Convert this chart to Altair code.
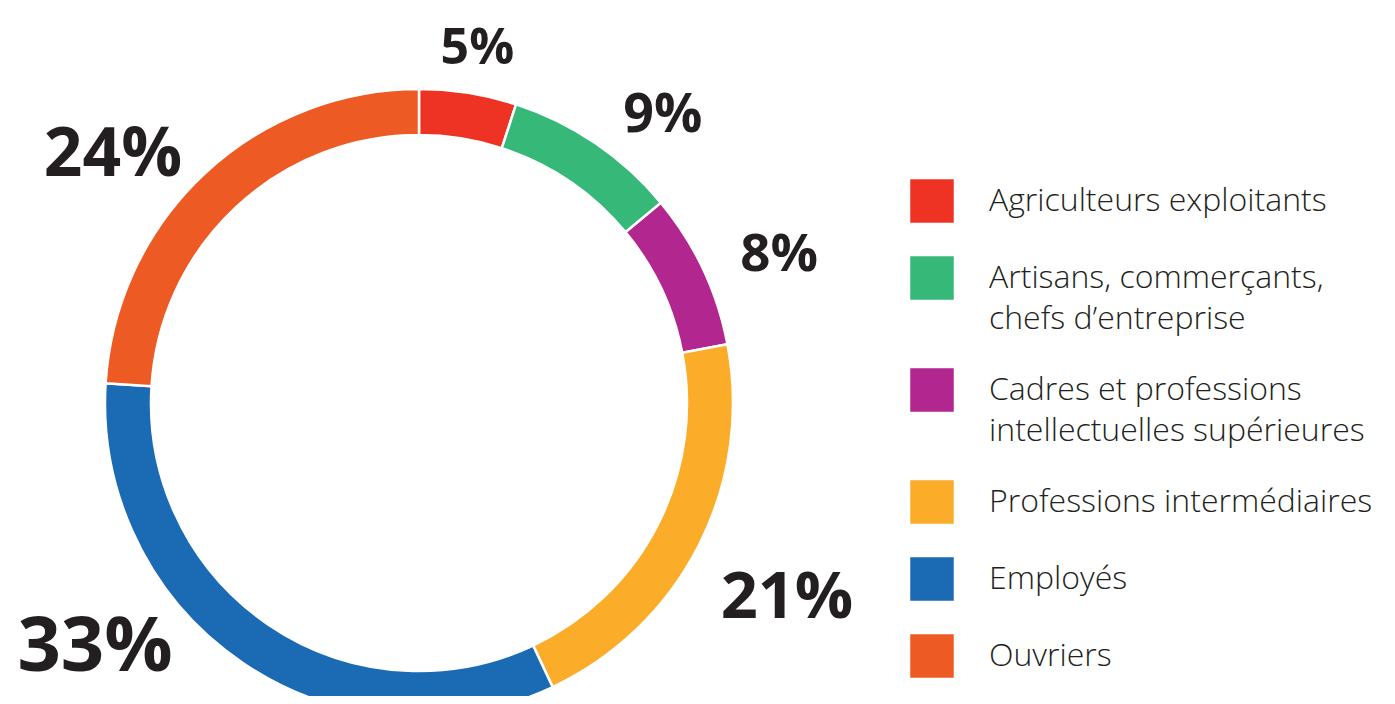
import altair as alt
import pandas as pd

categories = [
    "Agriculteurs exploitants",
    "Artisans, commerçants,\nchefs d’entreprise",
    "Cadres et professions\nintellectuelles supérieures",
    "Professions intermédiaires",
    "Employés",
    "Ouvriers",
]
values = [5, 9, 8, 21, 33, 24]
labels = ["5%", "9%", "8%", "21%", "33%", "24%"]
colors = ["#ee3324", "#36b878", "#b2268f", "#fbad2a", "#1a6ab4", "#ee5a24"]
# label placement (position along the ring in %, distance in ring radii)
label_at = [2.6, 11.2, 18.8, 32.8, 64.7, 85.8]
label_dist = [1.143, 1.2, 1.24, 1.328, 1.293, 1.252]

df = pd.DataFrame({
    "category": categories,
    "value": values,
    "label": labels,
    "idx": list(range(len(categories))),
    "label_at": label_at,
    "label_dist": label_dist,
})

CX, CY = 411, 395
R_OUT, R_IN = 314, 268
TXT = "#231f20"

theta_scale = alt.Scale(domain=[0, 100], range=[0, 6.283185307179586])

ring = alt.Chart(df).mark_arc(
    radius=R_OUT, radius2=R_IN, stroke="white", strokeWidth=2.5
).encode(
    x=alt.value(CX),
    y=alt.value(CY),
    theta=alt.Theta("value:Q", stack=True, scale=theta_scale),
    order=alt.Order("idx:Q"),
    color=alt.Color(
        "category:N",
        sort=categories,
        scale=alt.Scale(domain=categories, range=colors),
        legend=alt.Legend(
            title=None,
            orient="none",
            legendX=902,
            legendY=171,
            symbolType="square",
            symbolSize=1892,
            symbolStrokeWidth=0,
            symbolOpacity=1,
            labelFont="Open Sans",
            labelFontSize=32,
            labelFontWeight=300,
            labelColor=TXT,
            labelOffset=35,
            labelLimit=700,
            rowPadding=33,
            labelExpr="split(datum.label, '\\n')",
        ),
    ),
)

text = alt.Chart(df).mark_text(
    font="Open Sans", fontWeight="bold", color=TXT, align="center", baseline="middle"
).encode(
    x=alt.value(CX),
    y=alt.value(CY),
    theta=alt.Theta("label_at:Q", stack=None, scale=theta_scale),
    radius=alt.Radius(
        "label_dist:Q",
        scale=alt.Scale(type="linear", domain=[0, 1], range=[0, R_OUT], zero=True),
    ),
    text="label:N",
    size=alt.Size("value:Q", scale=alt.Scale(domain=[5, 33], range=[50, 76]), legend=None),
)

chart = (
    alt.layer(ring, text)
    .properties(width=1379, height=688, autosize=alt.AutoSizeParams(type="none"), padding=0)
    .configure(style={"guide-label": {"lineHeight": 41}})
    .configure_view(stroke=None)
)

chart.save("out.html", embed_options={"renderer": "svg", "actions": False})
